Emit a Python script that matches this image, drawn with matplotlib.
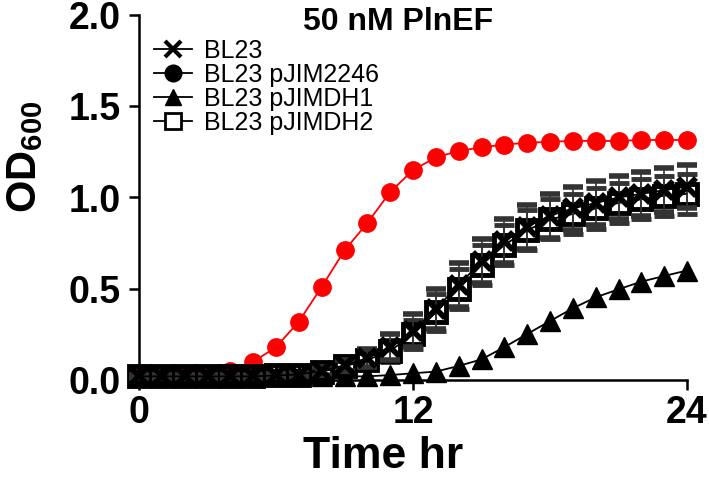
import matplotlib
matplotlib.use("Agg")
import matplotlib.pyplot as plt
from matplotlib.lines import Line2D
import numpy as np

plt.rcParams['font.family'] = ['Liberation Sans', 'DejaVu Sans']
plt.rcParams['mathtext.fontset'] = 'custom'
plt.rcParams['mathtext.rm'] = 'Liberation Sans'
plt.rcParams['mathtext.bf'] = 'Liberation Sans:bold'

time_hr = list(range(25))
bl23 = [0.02, 0.02, 0.02, 0.02, 0.02, 0.02, 0.025, 0.03, 0.05, 0.08, 0.12, 0.18, 0.27,
        0.39, 0.52, 0.65, 0.76, 0.84, 0.90, 0.94, 0.97, 1.00, 1.02, 1.04, 1.06]
bl23_err = [0.01, 0.01, 0.01, 0.01, 0.01, 0.01, 0.01, 0.01, 0.02, 0.03, 0.05, 0.07, 0.09,
            0.11, 0.12, 0.12, 0.12, 0.12, 0.12, 0.12, 0.12, 0.12, 0.12, 0.12, 0.12]
pjim2246 = [0.02, 0.02, 0.02, 0.02, 0.05, 0.10, 0.18, 0.32, 0.51, 0.71, 0.86, 1.03, 1.15,
            1.22, 1.255, 1.275, 1.29, 1.30, 1.305, 1.31, 1.31, 1.31, 1.315, 1.315, 1.315]
pjimdh1 = [0.02, 0.02, 0.02, 0.02, 0.02, 0.02, 0.02, 0.02, 0.02, 0.02, 0.02, 0.027, 0.037,
           0.046, 0.077, 0.113, 0.18, 0.252, 0.323, 0.393, 0.453, 0.497, 0.539, 0.57, 0.60]
pjimdh2 = [0.02, 0.02, 0.02, 0.02, 0.02, 0.02, 0.025, 0.03, 0.045, 0.075, 0.11, 0.16, 0.25,
           0.37, 0.50, 0.63, 0.74, 0.82, 0.88, 0.91, 0.94, 0.97, 0.99, 1.01, 1.02]
pjimdh2_err = [0.01, 0.01, 0.01, 0.01, 0.01, 0.01, 0.01, 0.01, 0.02, 0.03, 0.04, 0.06, 0.08,
               0.10, 0.11, 0.11, 0.11, 0.11, 0.11, 0.11, 0.11, 0.11, 0.11, 0.11, 0.11]
labels = ['BL23', 'BL23 pJIM2246', 'BL23 pJIMDH1', 'BL23 pJIMDH2']
x_ticks = [0, 12, 24]
y_ticks = [0.0, 0.5, 1.0, 1.5, 2.0]

fig = plt.figure(figsize=(7.09, 4.86), dpi=100)
ax = fig.add_axes([139/709, (486-380)/486, (687-139)/709, (380-15)/486])

ax.plot(time_hr, pjim2246, color='#ff0000', lw=1.3, marker='o', ms=12.5,
        mec='#ff0000', mfc='#ff0000', zorder=3, clip_on=False)
ax.plot(time_hr, pjimdh1, color='black', lw=1.3, marker='^', ms=14,
        mfc='black', mec='black', zorder=4, clip_on=False)
ax.errorbar(time_hr, pjimdh2, yerr=pjimdh2_err, color='black', lw=1.3, marker='s', ms=14.5,
            mfc='none', mec='black', mew=3.5, ecolor='#333333', elinewidth=1.2, capsize=7,
            capthick=1.2, zorder=5, clip_on=False)
ax.errorbar(time_hr, bl23, yerr=bl23_err, color='black', lw=1.3, marker='x', ms=13,
            mec='black', mew=4, ecolor='#333333', elinewidth=1.2, capsize=7,
            capthick=1.2, zorder=6, clip_on=False)

ax.set_xlim(0, 24)
ax.set_ylim(0, 2.0)
ax.set_xticks(x_ticks)
ax.set_xticklabels([str(v) for v in x_ticks])
ax.set_yticks(y_ticks)
ax.set_yticklabels([f'{v:.1f}' for v in y_ticks])
for s in ['top', 'right']:
    ax.spines[s].set_visible(False)
for s in ['left', 'bottom']:
    ax.spines[s].set_linewidth(1.8)
ax.tick_params(axis='both', direction='out', length=7, width=1.8, labelsize=27)
ax.tick_params(axis='y', pad=6)
ax.tick_params(axis='x', pad=4)
for lab in ax.get_xticklabels() + ax.get_yticklabels():
    lab.set_fontweight('bold')

handles = [
    Line2D([], [], color='black', lw=1.3, marker='x', ms=12, mew=3),
    Line2D([], [], color='black', lw=1.3, marker='o', ms=12),
    Line2D([], [], color='black', lw=1.3, marker='^', ms=12),
    Line2D([], [], color='black', lw=1.3, marker='s', ms=11, mfc='white', mew=2),
]
leg = ax.legend(handles, labels, loc='upper left', bbox_to_anchor=(0.0, 0.975),
                frameon=False, fontsize=18, handlelength=1.5, handletextpad=0.5,
                labelspacing=0.0, borderaxespad=0.2)

fig.text(398/709, 1 - 22/486, '50 nM PlnEF', ha='center', va='center',
         fontsize=23, fontweight='bold')
fig.text(383/709, 1 - 456/486, 'Time hr', ha='center', va='center',
         fontsize=32, fontweight='bold')
fig.text(25/709, 1 - 157/486, r'OD$_\mathbf{600}$', ha='center', va='center',
         rotation=90, fontsize=30, fontweight='bold')

fig.savefig('out.png', dpi=100)
